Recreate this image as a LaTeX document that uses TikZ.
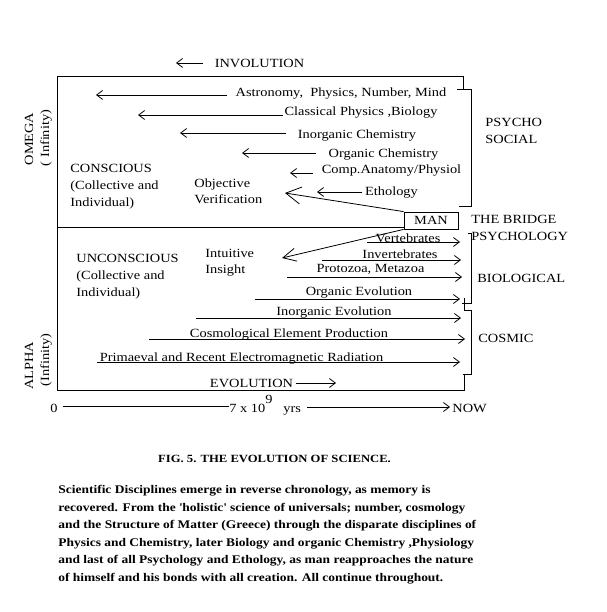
\documentclass[tikz,border=0pt]{standalone}
\usepackage{fontspec}
\setmainfont{Liberation Serif}[FakeStretch=1.15]
\usetikzlibrary{arrows.meta}
\begin{document}
\begin{tikzpicture}[x=1pt,y=-1pt,line width=0.8pt,
  txt/.style={anchor=base,inner sep=0pt,font=\fontsize{12.5}{14}\selectfont},
  ltxt/.style={anchor=base west,inner sep=0pt,font=\fontsize{12.5}{14}\selectfont},
  par/.style={anchor=base west,inner sep=0pt,font=\fontsize{11.7}{14}\selectfont\bfseries},
  vtxt/.style={anchor=base,inner sep=0pt,rotate=90,font=\fontsize{12.5}{14}\selectfont},
  arr/.style={-{Straight Barb[length=6pt,width=9pt]}},
  bigarr/.style={-{Straight Barb[length=15pt,width=17pt]}},
  midarr/.style={-{Straight Barb[length=13pt,width=13pt]}},
  manbox/.style={draw,inner sep=0pt,minimum width=54pt,minimum height=17pt,font=\fontsize{12.5}{14}\selectfont}
]
\useasboundingbox[fill=white] (0,0) rectangle (606,612);

% frame
\draw (463,89) -- (463,76) -- (57,76) -- (57,390) -- (464,390) -- (464,375);
\node[manbox] (man) at (431,220.5) {MAN};
\coordinate (midL) at (57,227);
\draw (midL) -- (midL -| man.west);

% brackets
\draw (457,89) -- (471,89) -- (471,206) -- (459,206);
\draw (468,233) -- (471,233) -- (471,303) -- (462,303);
\draw (464,298) -- (464,310);
\draw (464,310) -- (471,310) -- (471,374) -- (463,374);

% top labels
\node[txt] (invol) at (259.5,68) {INVOLUTION};
\coordinate (inva) at (203,63); \coordinate (invb) at (176,63);
\draw[arr] (inva) -- (invb);

\node[txt] (astro) at (341,97) {Astronomy,\ \ Physics, Number, Mind};
\node[txt] (class) at (361,116) {Classical Physics ,Biology};
\node[txt] (inorg) at (357,139) {Inorganic Chemistry};
\node[txt] (orgch) at (383.5,158) {Organic Chemistry};
\node[txt] (comp) at (391.5,174) {Comp.Anatomy/Physiol};
\node[txt] (etho) at (391.5,196) {Ethology};

\coordinate (a1) at (227,95);  \coordinate (t1) at (96,95);
\coordinate (a2) at (283,115); \coordinate (t2) at (138,115);
\coordinate (a3) at (286,133); \coordinate (t3) at (180,133);
\coordinate (a4) at (316,153); \coordinate (t4) at (242,153);
\coordinate (a5) at (313,173); \coordinate (t5) at (290,173);
\coordinate (a6) at (362,192); \coordinate (t6) at (317,192);
\draw[arr] (a1) -- (t1);
\draw[arr] (a2) -- (t2);
\draw[arr] (a3) -- (t3);
\draw[arr] (a4) -- (t4);
\draw[arr] (a5) -- (t5);
\draw[arr] (a6) -- (t6);

\node[ltxt] (psy1) at (485,127) {PSYCHO};
\node[ltxt] (psy2) at (485,144) {SOCIAL};

\node[ltxt] (con1) at (70,173) {CONSCIOUS};
\node[ltxt] (con2) at (70,190) {(Collective and};
\node[ltxt] (con3) at (70,207) {Individual)};
\node[ltxt] (obj1) at (194,188) {Objective};
\node[ltxt] (obj2) at (194,204) {Verification};

\coordinate (tobj) at (285,193);
\draw[bigarr] (man.north west) -- (tobj);
\coordinate (tint) at (282,258);
\draw[midarr] (man.south west) -- (tint);

\node[ltxt] (bridge) at (471,223) {THE BRIDGE};
\node[ltxt] (psych) at (471,240) {PSYCHOLOGY};
\node[ltxt] (bio) at (477,282) {BIOLOGICAL};
\node[ltxt] (cos) at (478,342) {COSMIC};

\node[ltxt] (unc1) at (76,262) {UNCONSCIOUS};
\node[ltxt] (unc2) at (76,279) {(Collective and};
\node[ltxt] (unc3) at (76,296) {Individual)};
\node[ltxt] (int1) at (205,257) {Intuitive};
\node[ltxt] (int2) at (205,273) {Insight};

% bottom labels
\node[txt] (vert) at (408,242) {Vertebrates};
\node[txt] (invert) at (400,258) {Invertebrates};
\node[txt] (proto) at (370.5,272) {Protozoa, Metazoa};
\node[txt] (orgev) at (359,295) {Organic Evolution};
\node[txt] (inorgev) at (334,315) {Inorganic Evolution};
\node[txt] (cosmo) at (289,337) {Cosmological Element Production};
\node[txt] (prim) at (241.5,361) {Primaeval and Recent Electromagnetic Radiation};
\node[txt] (evol) at (251.5,387) {EVOLUTION};

\coordinate (b1) at (367,242); \coordinate (e1) at (460,242);
\coordinate (b2) at (322,260); \coordinate (e2) at (461,260);
\coordinate (b3) at (287,277); \coordinate (e3) at (462,277);
\coordinate (b4) at (255,299); \coordinate (e4) at (460,299);
\coordinate (b5) at (196,318); \coordinate (e5) at (461,318);
\coordinate (b6) at (149,339); \coordinate (e6) at (465,339);
\coordinate (b7) at (97,362);  \coordinate (e7) at (460,362);
\coordinate (b8) at (296,383); \coordinate (e8) at (336,383);
\draw[arr] (b1) -- (e1);
\draw[arr] (b2) -- (e2);
\draw[arr] (b3) -- (e3);
\draw[arr] (b4) -- (e4);
\draw[arr] (b5) -- (e5);
\draw[arr] (b6) -- (e6);
\draw[arr] (b7) -- (e7);
\draw[arr] (b8) -- (e8);

% side labels
\node[vtxt] (omega) at (33,139) {OMEGA};
\node[vtxt] (omegai) at (49,138) {( Infinity)};
\node[vtxt] (alpha) at (33,366) {ALPHA};
\node[vtxt] (alphai) at (49,360) {(Infinity)};

% time axis
\node[ltxt] (zero) at (50,412) {0};
\node[ltxt] (seven) at (229,412) {7 x 10\raisebox{9pt}{9}};
\node[ltxt] (yrs) at (283,412) {yrs};
\node[ltxt] (now) at (452,412) {NOW};
\draw (zero.east |- 0,406) ++(5,0) coordinate (ax0) -- (seven.west |- 0,406);
\coordinate (ax1) at (307,407); \coordinate (ax2) at (450,407);
\draw[arr] (ax1) -- (ax2);

% caption
\node[anchor=base,inner sep=0pt,font=\fontsize{11}{14}\selectfont\bfseries] (cap) at (274.5,462) {FIG. 5. THE EVOLUTION OF SCIENCE.};
\node[par] (p1) at (58,493) {Scientific Disciplines emerge in reverse chronology, as memory is};
\node[par] (p2) at (58,511) {recovered. From the \textquotesingle holistic\textquotesingle\ science of universals; number, cosmology};
\node[par] (p3) at (58,528) {and the Structure of Matter (Greece) through the disparate disciplines of};
\node[par] (p4) at (58,546) {Physics and Chemistry, later Biology and organic Chemistry ,Physiology};
\node[par] (p5) at (58,563) {and last of all Psychology and Ethology, as man reapproaches the nature};
\node[par] (p6) at (58,581) {of himself and his bonds with all creation. All continue throughout.};
\end{tikzpicture}
\end{document}
